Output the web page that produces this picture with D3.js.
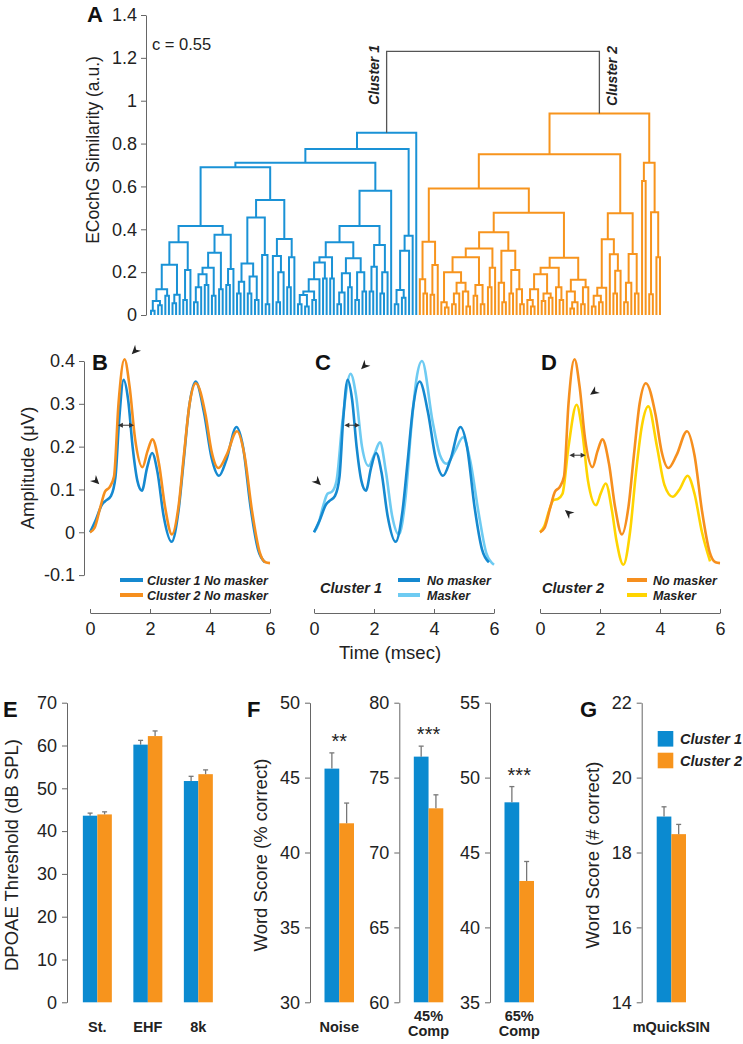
<!DOCTYPE html>
<html>
<head>
<meta charset="utf-8">
<script src="https://cdn.jsdelivr.net/npm/d3@7"></script>
<style>
  body { margin: 0; background: #fff; }
  svg { display: block; font-family: "Liberation Sans", Arial, Helvetica, sans-serif; }
  .axis path, .axis line { stroke: #666; }
  .axis text { fill: #222; }
</style>
</head>
<body>
<div id="viz-container"></div>
<script>
// ---------------- data ----------------

// A) dendrogram, each node = [merge height, left, right], 0 = leaf
const cluster1Tree =
  [0.85,
    [0.775,
      [0.71,
        [0.69,
          [0.415,
            [0.34,
              [0.235,
                [0.12, [0.065, [0.02, 0, 0], [0.045, 0, 0]], [0.09, 0, 0]],
                [0.095, [0.055, 0, 0], 0]],
              [0.21, [0.07, 0, 0], 0]],
            [0.375,
              [0.29,
                [0.22, [0.19, [0.13, [0.06, 0, 0], 0], [0.14, 0, 0]], [0.09, 0, 0]],
                [0.12, 0, 0]],
              [0.215, [0.14, 0, 0], 0]]],
          [0.537,
            [0.455,
              [0.24, [0.155, [0.1, 0, 0], 0], [0.18, [0.1, 0, 0], [0.07, 0, 0]]],
              [0.28, 0, [0.05, 0, 0]]],
            [0.355,
              [0.275, 0, [0.2, [0.06, 0, 0], 0]],
              [0.27, [0.13, 0, 0], 0]]]],
        [0.58,
          [0.415,
            [0.34,
              [0.27,
                [0.245,
                  [0.167, [0.11, [0.093, [0.05, 0, 0], [0.04, 0, 0]], [0.07, 0, 0]], 0],
                  [0.17, 0, 0]],
                [0.17, 0, 0]],
              [0.265,
                [0.195, [0.105, [0.05, 0, 0], 0], [0.13, 0, 0]],
                [0.2, [0.07, 0, 0], [0.11, 0, 0]]]],
            [0.327, [0.225, [0.11, 0, 0], 0], [0.2, [0.1, 0, 0], 0]]],
          0]],
      [0.37, [0.3, [0.117, [0.05, 0, 0], [0.08, 0, 0]], 0], 0]],
    0];

const cluster2Tree =
  [0.94,
    [0.75,
      [0.59,
        [0.342, [0.167, 0, [0.1, 0, 0]], [0.233, [0.095, 0, 0], 0]],
        [0.477,
          [0.386,
            [0.31,
              [0.27,
                [0.2,
                  [0.06, 0, [0.035, 0, 0]],
                  [0.15, [0.1, [0.05, 0, 0], 0], [0.11, 0, [0.04, 0, 0]]]],
                [0.14, [0.09, 0, 0], [0.05, 0, 0]]],
              [0.22, [0.13, 0, 0], 0]],
            [0.3,
              [0.15, 0, [0.06, 0, 0]],
              [0.21, [0.1, 0, 0], [0.12, 0, [0.05, 0, 0]]]]],
          [0.267,
            [0.22,
              [0.19, [0.12, [0.07, 0, [0.04, 0, 0]], 0], [0.1, [0.065, 0, 0], [0.08, 0, 0]]],
              [0.13, 0, [0.07, 0, 0]]],
            [0.165,
              [0.11, 0, [0.06, [0.03, 0, 0], 0]],
              [0.13, [0.05, 0, 0], 0]]]]],
      [0.475,
        [0.353,
          [0.127, [0.09, [0.04, 0, 0], [0.06, 0, 0]], 0],
          [0.283, 0, [0.207, [0.1, 0, 0], 0]]],
        [0.285, [0.15, [0.06, 0, 0], 0], [0.1, 0, 0]]]],
    [0.71, [0.625, 0, 0], [0.48, [0.097, 0, 0], [0.27, 0, 0]]]];

const topMergeHeight = 1.23;
const dendroTicks = [0, 0.2, 0.4, 0.6, 0.8, 1, 1.2, 1.4];

// B-D) averaged ECochG waveforms (time in ms, amplitude in uV)
const timeC1NoMask = [0, 0.2, 0.4, 0.55, 0.7, 0.85, 0.97, 1.12, 1.27, 1.42, 1.58, 1.73, 1.9, 2.07, 2.25, 2.45, 2.72, 2.95, 3.12, 3.3, 3.52, 3.8, 4.05, 4.3, 4.55, 4.88, 5.1, 5.35, 5.6, 5.83];
const ampC1NoMask  = [0, 0.03, 0.065, 0.075, 0.085, 0.13, 0.26, 0.356, 0.31, 0.2, 0.12, 0.097, 0.15, 0.185, 0.14, 0.04, -0.022, 0.05, 0.165, 0.29, 0.352, 0.28, 0.175, 0.132, 0.17, 0.246, 0.2, 0.06, -0.04, -0.07];

const timeC2NoMask = [0, 0.15, 0.35, 0.5, 0.65, 0.8, 0.95, 1.15, 1.32, 1.5, 1.75, 1.92, 2.08, 2.3, 2.5, 2.73, 2.95, 3.13, 3.32, 3.53, 3.85, 4.05, 4.28, 4.55, 4.9, 5.15, 5.4, 5.65, 5.85, 6.0];
const ampC2NoMask  = [0, 0.01, 0.06, 0.095, 0.105, 0.13, 0.3, 0.404, 0.34, 0.22, 0.152, 0.19, 0.217, 0.16, 0.06, -0.005, 0.06, 0.18, 0.3, 0.348, 0.275, 0.19, 0.15, 0.18, 0.236, 0.18, 0.05, -0.045, -0.07, -0.072];

const timeC1Mask = [0, 0.15, 0.3, 0.45, 0.6, 0.75, 0.95, 1.22, 1.4, 1.6, 1.82, 2.0, 2.2, 2.4, 2.6, 2.83, 3.05, 3.25, 3.42, 3.6, 3.95, 4.2, 4.42, 4.7, 4.97, 5.2, 5.5, 5.75, 6.0];
const ampC1Mask  = [0, 0.02, 0.06, 0.09, 0.095, 0.12, 0.26, 0.37, 0.32, 0.2, 0.155, 0.18, 0.21, 0.14, 0.04, -0.005, 0.08, 0.25, 0.36, 0.4, 0.26, 0.18, 0.16, 0.19, 0.222, 0.17, 0.04, -0.05, -0.076];

const timeC2Mask = [0, 0.15, 0.3, 0.45, 0.6, 0.75, 0.95, 1.22, 1.4, 1.6, 1.87, 2.02, 2.19, 2.4, 2.55, 2.78, 3.0, 3.2, 3.4, 3.61, 3.9, 4.15, 4.42, 4.65, 4.92, 5.15, 5.4, 5.67];
const ampC2Mask  = [0, 0.015, 0.05, 0.075, 0.078, 0.09, 0.2, 0.298, 0.24, 0.12, 0.063, 0.09, 0.114, 0.05, -0.02, -0.076, 0.0, 0.14, 0.25, 0.294, 0.2, 0.11, 0.083, 0.1, 0.132, 0.09, 0.0, -0.068];

const ampTicks = [-0.1, 0, 0.1, 0.2, 0.3, 0.4];
const timeTicks = [0, 2, 4, 6];

// arrowhead annotations (t, amplitude, pointing angle in degrees)
const arrowsB = [{ t: 1.39, a: 0.416, angle: 135 }, { t: 0.31, a: 0.112, angle: 45 }];
const arrowsC = [{ t: 1.57, a: 0.381, angle: 135 }, { t: 0.23, a: 0.11, angle: 45 }];
const arrowsD = [{ t: 1.67, a: 0.321, angle: 145 }, { t: 0.83, a: 0.052, angle: 220 }];
// latency double arrows (t0, t1, amplitude)
const latencyB = [0.93, 1.47, 0.25];
const latencyC = [1.01, 1.53, 0.25];
const latencyD = [0.98, 1.52, 0.18];

// E) DPOAE thresholds
const dpoaeCats = ["St.", "EHF", "8k"];
const dpoaeC1 = [43.6, 60.2, 51.7];
const dpoaeC2 = [43.9, 62.2, 53.3];
const dpoaeC1Err = [0.6, 1.0, 1.1];
const dpoaeC2Err = [0.6, 1.2, 1.0];
const dpoaeTicks = [0, 10, 20, 30, 40, 50, 60, 70];

// F) word scores (% correct)
const wordCats = ["Noise", "45% Comp", "65% Comp"];
const wordC1 = [45.6, 76.4, 48.35];
const wordC2 = [41.95, 72.95, 43.1];
const wordC1Err = [1.05, 0.7, 1.05];
const wordC2Err = [1.35, 0.9, 1.3];
const wordDomains = [[30, 50], [60, 80], [35, 55]];
const wordTicks = [[30, 35, 40, 45, 50], [60, 65, 70, 75, 80], [35, 40, 45, 50, 55]];
const wordStars = ["**", "***", "***"];

// G) mQuickSIN
const sinCats = ["mQuickSIN"];
const sinC1 = [18.96];
const sinC2 = [18.49];
const sinC1Err = [0.26];
const sinC2Err = [0.26];
const sinTicks = [14, 16, 18, 20, 22];

const seriesNames = ["Cluster 1", "Cluster 2"];

// ---------------- drawing ----------------
const FONT = '"Liberation Sans", Arial, Helvetica, sans-serif';
const dendroBlue = "#1a92d6", dendroOrange = "#f7941d";
const barBlue = "#0b8ad0", barOrange = "#f7941d";
const lineC1 = "#1589d0", lineC2 = "#f68f1e", lineC1Mask = "#6ecbf2", lineC2Mask = "#ffd400";
const fmt = d => String(d);

const svg = d3.select("#viz-container")
  .append("svg")
  .attr("width", 743)
  .attr("height", 1044);

function styleAxis(g) {
  g.attr("class", "axis").attr("font-size", 18).attr("font-family", FONT);
}

function panelLetter(x, y, t) {
  svg.append("text").attr("x", x).attr("y", y)
    .attr("font-size", 22).attr("font-weight", "bold").attr("fill", "#111")
    .text(t);
}

function yTitle(x, y, t, size) {
  svg.append("text")
    .attr("transform", `translate(${x},${y}) rotate(-90)`)
    .attr("text-anchor", "middle")
    .attr("font-size", size).attr("fill", "#222")
    .text(t);
}

// 1) Panel A: dendrogram
function drawDendrogram() {
  const yA = d3.scaleLinear().domain([0, 1.4]).range([315, 15]);

  let nLeaves = 0;
  function place(node) {
    if (node === 0) return { i: nLeaves++, h: 0 };
    const l = place(node[1]), r = place(node[2]);
    return { i: (l.i + r.i) / 2, h: node[0], l, r };
  }
  const root1 = place(cluster1Tree);
  const root2 = place(cluster2Tree);
  const xA = d3.scaleLinear().domain([0, nLeaves - 1]).range([151, 660]);

  const g = svg.append("g");
  function links(node, color) {
    if (!node.l) return;
    g.append("path")
      .attr("d", `M${xA(node.l.i)},${yA(node.l.h)}V${yA(node.h)}H${xA(node.r.i)}V${yA(node.r.h)}`)
      .attr("fill", "none")
      .attr("stroke", color)
      .attr("stroke-width", 2);
    links(node.l, color);
    links(node.r, color);
  }
  links(root1, dendroBlue);
  links(root2, dendroOrange);

  // top merge (gray)
  g.append("path")
    .attr("d", `M${xA(root1.i)},${yA(root1.h)}V${yA(topMergeHeight)}H${xA(root2.i)}V${yA(root2.h)}`)
    .attr("fill", "none").attr("stroke", "#555").attr("stroke-width", 1.3);

  svg.append("g")
    .attr("transform", "translate(146,0)")
    .call(d3.axisLeft(yA).tickValues(dendroTicks).tickFormat(fmt).tickSize(5).tickSizeOuter(0).tickPadding(4))
    .call(styleAxis);

  yTitle(99, 150, "ECochG Similarity (a.u.)", 17.5);
  panelLetter(87, 22, "A");

  svg.append("text").attr("x", 152).attr("y", 50)
    .attr("font-size", 16.5).attr("fill", "#222").text("c = 0.55");

  svg.append("text")
    .attr("transform", `translate(${xA(root1.i) - 8},75) rotate(-90)`)
    .attr("text-anchor", "middle").attr("font-size", 14)
    .attr("font-weight", "bold").attr("font-style", "italic").attr("fill", "#222")
    .text("Cluster 1");
  svg.append("text")
    .attr("transform", `translate(${xA(root2.i) + 18},76) rotate(-90)`)
    .attr("text-anchor", "middle").attr("font-size", 14)
    .attr("font-weight", "bold").attr("font-style", "italic").attr("fill", "#222")
    .text("Cluster 2");
}

// 2) Panels B-D: waveforms
function drawWaveforms() {
  const yAmp = d3.scaleLinear().domain([-0.1, 0.4]).range([575.1, 361]);

  const panels = [
    {
      letter: "B", x0: 90, letterX: 92,
      curves: [[timeC1NoMask, ampC1NoMask, lineC1], [timeC2NoMask, ampC2NoMask, lineC2]],
      arrows: arrowsB, latency: latencyB,
      legend: { title: null, lineX: 120, lineW: 23, textX: 147, size: 12.5,
        items: [["Cluster 1 No masker", lineC1], ["Cluster 2 No masker", lineC2]] }
    },
    {
      letter: "C", x0: 314, letterX: 315,
      curves: [[timeC1Mask, ampC1Mask, lineC1Mask], [timeC1NoMask, ampC1NoMask, lineC1]],
      arrows: arrowsC, latency: latencyC,
      legend: { title: "Cluster 1", titleX: 320, lineX: 398, lineW: 22, textX: 427, size: 12.5,
        items: [["No masker", lineC1], ["Masker", lineC1Mask]] }
    },
    {
      letter: "D", x0: 540, letterX: 541,
      curves: [[timeC2Mask, ampC2Mask, lineC2Mask], [timeC2NoMask, ampC2NoMask, lineC2]],
      arrows: arrowsD, latency: latencyD,
      legend: { title: "Cluster 2", titleX: 542, lineX: 627, lineW: 20, textX: 653, size: 12.5,
        items: [["No masker", lineC2], ["Masker", lineC2Mask]] }
    }
  ];

  panels.forEach(p => {
    const x = d3.scaleLinear().domain([0, 6]).range([p.x0, p.x0 + 180]);
    const line = d3.line().x(d => x(d[0])).y(d => yAmp(d[1])).curve(d3.curveMonotoneX);

    p.curves.forEach(([t, a, color]) => {
      svg.append("path")
        .datum(t.map((v, i) => [v, a[i]]))
        .attr("d", line)
        .attr("fill", "none")
        .attr("stroke", color)
        .attr("stroke-width", 2.6);
    });

    // arrowheads
    p.arrows.forEach(d => {
      svg.append("path")
        .attr("d", "M0,0L-9,-4.2L-6.2,0L-9,4.2Z")
        .attr("transform", `translate(${x(d.t)},${yAmp(d.a)}) rotate(${d.angle})`)
        .attr("fill", "#222");
    });

    // latency double arrow
    const [t0, t1, la] = p.latency;
    const ly = yAmp(la);
    svg.append("line").attr("x1", x(t0) + 2).attr("x2", x(t1) - 2)
      .attr("y1", ly).attr("y2", ly).attr("stroke", "#333").attr("stroke-width", 1);
    svg.append("path").attr("d", "M0,0L-5,-2.5L-5,2.5Z")
      .attr("transform", `translate(${x(t1)},${ly})`).attr("fill", "#333");
    svg.append("path").attr("d", "M0,0L5,-2.5L5,2.5Z")
      .attr("transform", `translate(${x(t0)},${ly})`).attr("fill", "#333");

    // x axis (ticks pointing up)
    svg.append("g")
      .attr("transform", "translate(0,613)")
      .call(d3.axisBottom(x).tickValues(timeTicks).tickFormat(fmt).tickSize(-4).tickSizeOuter(0).tickPadding(9))
      .call(styleAxis);

    panelLetter(p.letterX, 370, p.letter);

    // legend
    const lg = p.legend;
    lg.items.forEach(([label, color], i) => {
      const yy = 580 + i * 15;
      svg.append("line").attr("x1", lg.lineX).attr("x2", lg.lineX + lg.lineW)
        .attr("y1", yy).attr("y2", yy)
        .attr("stroke", color).attr("stroke-width", 4);
      svg.append("text").attr("x", lg.textX).attr("y", yy + 4.5)
        .attr("font-size", lg.size).attr("font-weight", "bold").attr("font-style", "italic")
        .attr("fill", "#222").text(label);
    });
    if (lg.title) {
      svg.append("text").attr("x", lg.titleX).attr("y", 593)
        .attr("font-size", 14.5).attr("font-weight", "bold").attr("font-style", "italic")
        .attr("fill", "#222").text(lg.title);
    }
  });

  // shared y axis on B
  svg.append("g")
    .attr("transform", "translate(84,0)")
    .call(d3.axisLeft(yAmp).tickValues(ampTicks).tickFormat(fmt).tickSize(5).tickSizeOuter(0).tickPadding(4))
    .call(styleAxis);

  yTitle(34, 468, "Amplitude (μV)", 18.5);

  svg.append("text").attr("x", 390).attr("y", 659)
    .attr("text-anchor", "middle").attr("font-size", 18.5).attr("fill", "#222")
    .text("Time (msec)");
}

// 3) grouped bars with upward error bars
function drawBars(xBand, yScale, cats, v1, v2, e1, e2) {
  const xs = d3.scaleBand().domain(seriesNames).range([0, xBand.bandwidth()]);
  const rows = cats.map((c, i) => [
    { cat: c, s: seriesNames[0], v: v1[i], e: e1[i], color: barBlue },
    { cat: c, s: seriesNames[1], v: v2[i], e: e2[i], color: barOrange }
  ]).flat();
  const base = yScale.domain()[0];

  svg.append("g").selectAll("rect")
    .data(rows)
    .enter().append("rect")
    .attr("x", d => xBand(d.cat) + xs(d.s))
    .attr("y", d => yScale(d.v))
    .attr("width", xs.bandwidth())
    .attr("height", d => yScale(base) - yScale(d.v))
    .attr("fill", d => d.color);

  const eg = svg.append("g").attr("stroke", "#777").attr("stroke-width", 1.3);
  rows.forEach(d => {
    const cx = xBand(d.cat) + xs(d.s) + xs.bandwidth() / 2;
    eg.append("line").attr("x1", cx).attr("x2", cx)
      .attr("y1", yScale(d.v)).attr("y2", yScale(d.v + d.e));
    eg.append("line").attr("x1", cx - 2.5).attr("x2", cx + 2.5)
      .attr("y1", yScale(d.v + d.e)).attr("y2", yScale(d.v + d.e));
  });
}

function categoryLabel(x, text) {
  const lines = text.split(" ");
  if (lines.length === 1) {
    svg.append("text").attr("text-anchor", "middle")
      .attr("font-size", 14.5).attr("font-weight", "bold").attr("fill", "#222")
      .attr("x", x).attr("y", 1031.5).text(text);
  } else {
    // one text per line so lines stay apart
    lines.forEach((l, i) => {
      svg.append("text").attr("text-anchor", "middle")
        .attr("font-size", 14.5).attr("font-weight", "bold").attr("fill", "#222")
        .attr("x", x).attr("y", 1021 + i * 15).text(l);
    });
  }
}

// 4) Panel E
function drawDPOAE() {
  const y = d3.scaleLinear().domain([0, 70]).range([1002.3, 702.7]);
  const x = d3.scaleBand().domain(dpoaeCats).range([72.1, 223.6]).paddingInner(0.426).paddingOuter(0.213);
  drawBars(x, y, dpoaeCats, dpoaeC1, dpoaeC2, dpoaeC1Err, dpoaeC2Err);
  svg.append("g").attr("transform", "translate(67,0)")
    .call(d3.axisLeft(y).tickValues(dpoaeTicks).tickFormat(fmt).tickSize(5).tickSizeOuter(0).tickPadding(5))
    .call(styleAxis);
  dpoaeCats.forEach(c => categoryLabel(x(c) + x.bandwidth() / 2, c));
  yTitle(18, 855, "DPOAE Threshold (dB SPL)", 18.5);
  panelLetter(3, 717, "E");
}

// 5) Panel F
function drawWordScores() {
  const axisXs = [310, 399.3, 490];
  wordCats.forEach((c, i) => {
    const y = d3.scaleLinear().domain(wordDomains[i]).range([1002.3, 702.7]);
    const x = d3.scaleBand().domain([c]).range([axisXs[i] + 14.5, axisXs[i] + 44]);
    drawBars(x, y, [c], [wordC1[i]], [wordC2[i]], [wordC1Err[i]], [wordC2Err[i]]);
    svg.append("g").attr("transform", `translate(${axisXs[i]},0)`)
      .call(d3.axisLeft(y).tickValues(wordTicks[i]).tickFormat(fmt).tickSize(5).tickSizeOuter(0).tickPadding(5))
      .call(styleAxis);
    const cx = x(c) + x.bandwidth() / 2;
    categoryLabel(cx, c);
    svg.append("text").attr("x", cx).attr("y", y(wordC1[i] + wordC1Err[i]) - 5)
      .attr("text-anchor", "middle").attr("font-size", 20).attr("fill", "#222")
      .text(wordStars[i]);
  });
  yTitle(267, 855, "Word Score (% correct)", 18.5);
  panelLetter(247, 717, "F");
}

// 6) Panel G
function drawQuickSIN() {
  const y = d3.scaleLinear().domain([14, 22]).range([1002.3, 702.7]);
  const x = d3.scaleBand().domain(sinCats).range([656.7, 686]);
  drawBars(x, y, sinCats, sinC1, sinC2, sinC1Err, sinC2Err);
  svg.append("g").attr("transform", "translate(641.7,0)")
    .call(d3.axisLeft(y).tickValues(sinTicks).tickFormat(fmt).tickSize(5).tickSizeOuter(0).tickPadding(5))
    .call(styleAxis);
  categoryLabel(x(sinCats[0]) + x.bandwidth() / 2, sinCats[0]);
  yTitle(599, 855, "Word Score (# correct)", 18.5);
  panelLetter(580, 717, "G");

  // legend
  [barBlue, barOrange].forEach((color, i) => {
    const yy = 731 + i * 21.7;
    svg.append("rect").attr("x", 657.7).attr("y", yy).attr("width", 15.6).attr("height", 15.6)
      .attr("fill", color);
    svg.append("text").attr("x", 680).attr("y", yy + 13)
      .attr("font-size", 14.5).attr("font-weight", "bold").attr("font-style", "italic")
      .attr("fill", "#222").text(seriesNames[i]);
  });
}

drawDendrogram();
drawWaveforms();
drawDPOAE();
drawWordScores();
drawQuickSIN();
</script>
</body>
</html>
